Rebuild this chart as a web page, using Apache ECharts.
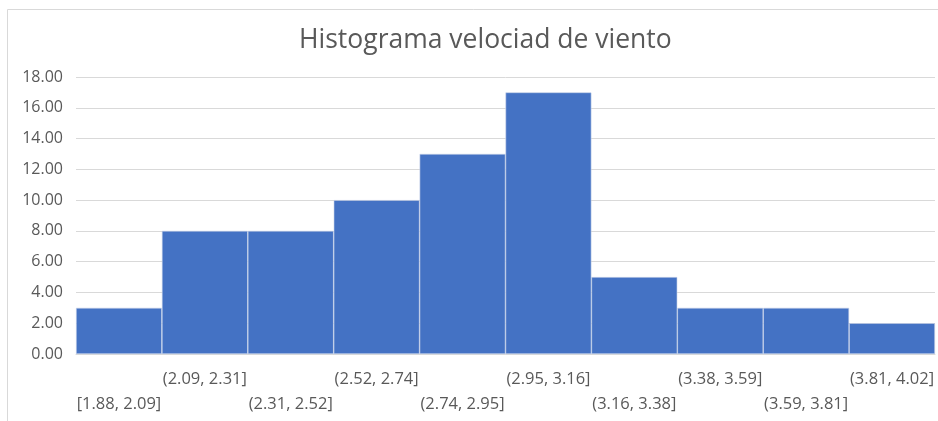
<!DOCTYPE html>
<html>
<head>
<meta charset="utf-8">
<script src="https://cdn.jsdelivr.net/npm/echarts@6/dist/echarts.min.js"></script>
<style>
    html, body { margin: 0; padding: 0; background: #fff; }
    #chart { width: 938px; height: 421px; }
</style>
</head>
<body>
<div id="chart"></div>
<script>
    // histogram bins and counts
    var bins = ['[1.88, 2.09]', '(2.09, 2.31]', '(2.31, 2.52]', '(2.52, 2.74]', '(2.74, 2.95]',
        '(2.95, 3.16]', '(3.16, 3.38]', '(3.38, 3.59]', '(3.59, 3.81]', '(3.81, 4.02]']
    var counts = [3, 8, 8, 10, 13, 17, 5, 3, 3, 2]
    var yTicks = { min: 0, max: 18, interval: 2 }

    var chart = echarts.init(document.getElementById('chart'))
    var textColor = '#595959'
    var font = 'Open Sans'

    chart.setOption({
        animation: false,
        title: {
            text: 'Histograma velociad de viento',
            left: 294,
            top: 22,
            textStyle: { fontFamily: font, fontSize: 26.5, fontWeight: 'normal', color: textColor }
        },
        graphic: [{
            type: 'rect',
            shape: { x: 7.5, y: 9.5, width: 960, height: 440 },
            style: { fill: 'none', stroke: '#d9d9d9', lineWidth: 1 },
            silent: true
        }],
        grid: { left: 76, right: 3, top: 77, bottom: 67 },
        xAxis: {
            type: 'category',
            data: bins,
            axisTick: { show: false },
            axisLine: { lineStyle: { color: '#d9d9d9' } },
            axisLabel: {
                interval: 0,
                margin: 13,
                color: textColor,
                fontFamily: font,
                fontSize: 16.5,
                lineHeight: 25,
                formatter: function (v, i) {
                    return i % 2 === 0 ? '\n' + v : v
                }
            }
        },
        yAxis: {
            type: 'value',
            min: yTicks.min,
            max: yTicks.max,
            interval: yTicks.interval,
            axisLabel: {
                color: textColor,
                fontFamily: font,
                fontSize: 16,
                margin: 13,
                formatter: function (v) { return v.toFixed(2) }
            },
            splitLine: { lineStyle: { color: '#d9d9d9' } }
        },
        series: [{
            type: 'bar',
            data: counts,
            barCategoryGap: 0,
            itemStyle: { color: '#4472C4', borderColor: '#c9d4ea', borderWidth: 0.6 }
        }]
    })
</script>
</body>
</html>
